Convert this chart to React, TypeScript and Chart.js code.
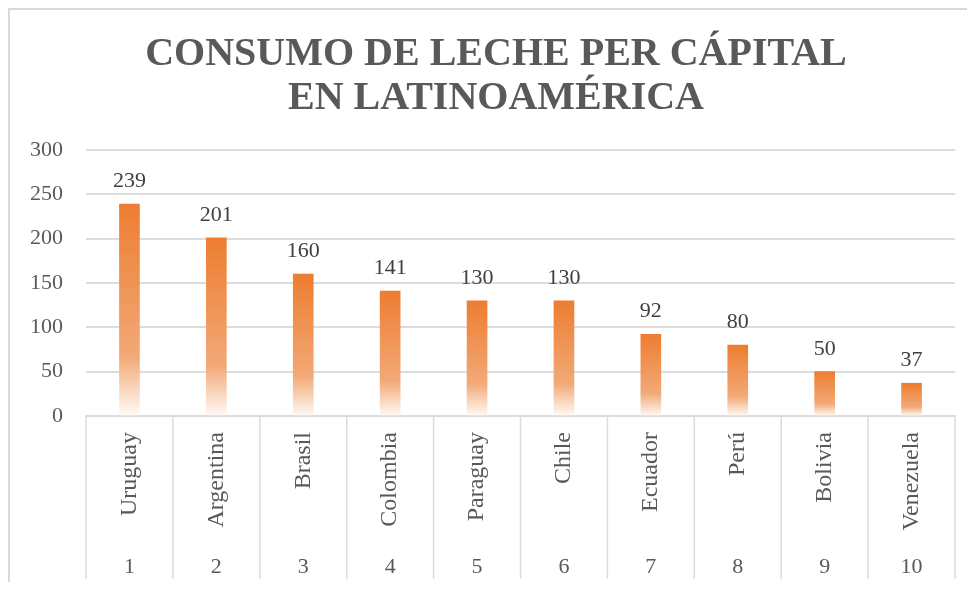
import React, { useEffect, useRef } from "react";
import { Chart, registerables } from "chart.js";

Chart.register(...registerables);

const countries = ["Uruguay", "Argentina", "Brasil", "Colombia", "Paraguay", "Chile", "Ecuador", "Perú", "Bolivia", "Venezuela"];
const ranks = ["1", "2", "3", "4", "5", "6", "7", "8", "9", "10"];
const consumo = [239, 201, 160, 141, 130, 130, 92, 80, 50, 37];
const titleLines = ["CONSUMO DE LECHE PER CÁPITAL", "EN LATINOAMÉRICA"];

const SERIF = "'Liberation Serif', 'Times New Roman', serif";
const TEXT = "#595959";
const GRID = "#dcdcdc";

const separatorPlugin = {
  id: "separators",
  afterDraw(chart: any) {
    const x = chart.scales.x;
    const x2 = chart.scales.x2;
    const n = countries.length;
    const half = (x.getPixelForValue(1) - x.getPixelForValue(0)) / 2;
    const ctx = chart.ctx;
    ctx.save();
    ctx.strokeStyle = GRID;
    ctx.lineWidth = 1.5;
    for (let i = 0; i <= n; i++) {
      const px = i === 0 ? x.getPixelForValue(0) - half : x.getPixelForValue(i - 1) + half;
      ctx.beginPath();
      ctx.moveTo(px, chart.chartArea.bottom);
      ctx.lineTo(px, x2.bottom);
      ctx.stroke();
    }
    ctx.restore();
  },
};

const dataLabelPlugin = {
  id: "dataLabels",
  afterDatasetsDraw(chart: any) {
    const ctx = chart.ctx;
    const meta = chart.getDatasetMeta(0);
    ctx.save();
    ctx.font = `22px ${SERIF}`;
    ctx.fillStyle = "#404040";
    ctx.textAlign = "center";
    ctx.textBaseline = "alphabetic";
    meta.data.forEach((el: any, i: number) => {
      ctx.fillText(String(consumo[i]), el.x, el.y - 17);
    });
    ctx.restore();
  },
};

export default function App() {
  const ref = useRef<HTMLCanvasElement>(null);

  useEffect(() => {
    document.body.style.overflow = "hidden";
    if (!ref.current) return;
    const chart = new Chart(ref.current, {
      type: "bar",
      data: {
        labels: countries,
        datasets: [
          {
            data: consumo,
            barThickness: 20,
            borderWidth: 0,
            backgroundColor: (c: any) => {
              const ch = c.chart;
              if (!ch.chartArea || c.type !== "data") return "#ED7D31";
              const ys = ch.scales.y;
              const top = ys.getPixelForValue(c.raw);
              const bottom = ys.getPixelForValue(0);
              const g = ch.ctx.createLinearGradient(0, top, 0, bottom);
              g.addColorStop(0, "#ED7D31");
              g.addColorStop(0.72, "#F2A977");
              g.addColorStop(0.86, "#F8D2B6");
              g.addColorStop(1, "#FFFAF6");
              return g;
            },
          },
        ],
      },
      options: {
        responsive: false,
        animation: false,
        layout: { padding: { top: 2, bottom: 3, left: 16, right: 9 } },
        plugins: {
          legend: { display: false },
          tooltip: { enabled: false },
          title: {
            display: true,
            text: titleLines,
            color: TEXT,
            font: { family: SERIF, size: 40, weight: "bold", lineHeight: 1.1 },
            padding: { top: 21, bottom: 29 },
          },
        },
        scales: {
          y: {
            min: 0,
            max: 300,
            ticks: { stepSize: 50, color: TEXT, font: { family: SERIF, size: 22 }, padding: 23 },
            grid: { color: GRID, lineWidth: 2, drawTicks: false },
            border: { display: false },
            afterFit: (s: any) => {
              s.width = 60;
            },
          },
          yRight: {
            type: "linear",
            position: "right",
            display: true,
            ticks: { display: false },
            grid: { display: false, drawTicks: false },
            border: { display: false },
            afterFit: (s: any) => {
              s.width = 11;
            },
          },
          x: {
            position: "bottom",
            ticks: {
              color: TEXT,
              font: { family: SERIF, size: 24 },
              minRotation: 90,
              maxRotation: 90,
              padding: 16,
              autoSkip: false,
            },
            grid: { display: false, drawTicks: false },
            border: { display: true, color: GRID, width: 2 },
            afterFit: (s: any) => {
              s.height = 130;
            },
          },
          x2: {
            type: "category",
            position: "bottom",
            labels: ranks,
            offset: true,
            ticks: { color: TEXT, font: { family: SERIF, size: 22 }, padding: 8, maxRotation: 0, autoSkip: false },
            grid: { display: false, drawTicks: false },
            border: { display: false },
            afterFit: (s: any) => {
              s.height = 33;
            },
          },
        },
      } as any,
      plugins: [separatorPlugin, dataLabelPlugin],
    });
    return () => chart.destroy();
  }, []);

  return (
    <div
      style={{
        borderLeft: "2px solid #d9d9d9",
        borderTop: "2px solid #d9d9d9",
        width: 965,
        height: 572,
        background: "#fff",
      }}
    >
      <canvas ref={ref} width={965} height={572} style={{ display: "block" }} />
    </div>
  );
}
